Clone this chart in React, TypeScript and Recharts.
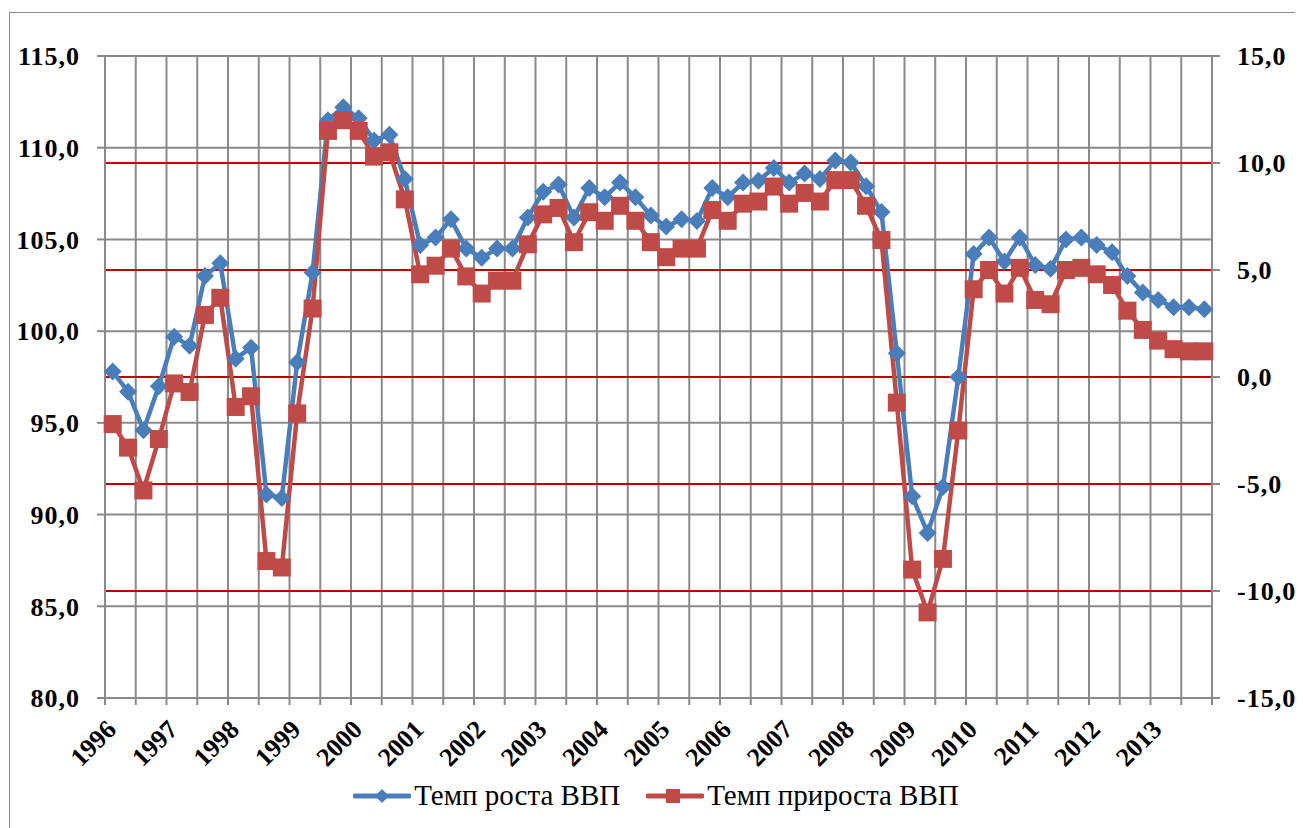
import { LineChart, Line, XAxis, YAxis, CartesianGrid, Legend, ReferenceLine } from 'recharts';

const years = [
  '1996', '1997', '1998', '1999', '2000', '2001', '2002', '2003', '2004',
  '2005', '2006', '2007', '2008', '2009', '2010', '2011', '2012', '2013',
];

// quarterly GDP growth rate, % to same quarter of previous year
const growthRate = [
  97.8, 96.7, 94.6, 97.0, 99.7, 99.2, 103.0, 103.7,
  98.5, 99.1, 91.1, 90.9, 98.3, 103.2, 111.5, 112.2,
  111.6, 110.4, 110.7, 108.3, 104.7, 105.1, 106.1, 104.5,
  104.0, 104.5, 104.5, 106.2, 107.6, 108.0, 106.2, 107.8,
  107.3, 108.1, 107.3, 106.3, 105.7, 106.1, 106.0, 107.8,
  107.3, 108.1, 108.2, 108.9, 108.1, 108.6, 108.3, 109.3,
  109.2, 107.9, 106.5, 98.8, 91.0, 89.0, 91.5, 97.5,
  104.2, 105.1, 103.8, 105.1, 103.6, 103.4, 105.0, 105.1,
  104.7, 104.3, 103.0, 102.1, 101.7, 101.3, 101.3, 101.2,
];

// quarterly GDP growth increment, %
const growthIncrement = [
  -2.2, -3.3, -5.3, -2.9, -0.3, -0.7, 2.9, 3.7,
  -1.4, -0.9, -8.6, -8.9, -1.7, 3.2, 11.5, 12.0,
  11.5, 10.3, 10.5, 8.3, 4.8, 5.2, 6.0, 4.7,
  3.9, 4.5, 4.5, 6.2, 7.6, 7.9, 6.3, 7.7,
  7.3, 8.0, 7.3, 6.3, 5.6, 6.0, 6.0, 7.8,
  7.3, 8.1, 8.2, 8.9, 8.1, 8.6, 8.2, 9.2,
  9.2, 8.0, 6.4, -1.2, -9.0, -11.0, -8.5, -2.5,
  4.1, 5.0, 3.9, 5.1, 3.6, 3.4, 5.0, 5.1,
  4.8, 4.3, 3.1, 2.2, 1.7, 1.3, 1.2, 1.2,
];

const leftTicks = [80, 85, 90, 95, 100, 105, 110, 115];
const rightTicks = [-15, -10, -5, 0, 5, 10, 15];
// red guide lines at the inner ticks of the right axis
const redLines = [-10, -5, 0, 5, 10];

const QUARTERS = growthRate.length;
const data = growthRate.map((v, i) => ({ x: i + 0.5, rate: v, inc: growthIncrement[i] }));
// vertical grid every half year, year labels at the first quarter
const gridTicks = Array.from({ length: QUARTERS / 2 + 1 }, (_, k) => k * 2);
const yearTicks = years.map((_, k) => k * 4 + 0.5);

const FONT = "'Liberation Serif', 'Times New Roman', 'DejaVu Serif', serif";
const BLUE = '#4A7EBB';
const RED = '#BE4B48';
const GRAY = '#8a8a8a';

const fmt = (v: number) => v.toFixed(1).replace('.', ',');

const axisTick = { fill: '#000', fontSize: 26, fontWeight: 700, fontFamily: FONT, letterSpacing: 1 };

function YearTick(props: any) {
  const { x, y, payload } = props;
  const label = years[Math.round((payload.value - 0.5) / 4)];
  const ax = x + 5;
  const ay = y + 26;
  return (
    <text
      x={ax}
      y={ay}
      transform={`rotate(-45, ${ax}, ${ay})`}
      textAnchor="end"
      fill="#000"
      style={{ fontFamily: FONT, fontSize: 26, fontWeight: 700 }}
    >
      {label}
    </text>
  );
}

function Diamond(props: any) {
  const { cx, cy, index } = props;
  const r = 9;
  return (
    <path
      key={`d${index}`}
      d={`M${cx},${cy - r}L${cx + r},${cy}L${cx},${cy + r}L${cx - r},${cy}Z`}
      fill={BLUE}
    />
  );
}

function Square(props: any) {
  const { cx, cy, index } = props;
  const s = 9;
  return <rect key={`s${index}`} x={cx - s} y={cy - s} width={s * 2} height={s * 2} fill={RED} />;
}

function LegendContent() {
  const item = (color: string, label: string, square: boolean) => (
    <div style={{ display: 'flex', alignItems: 'center', marginRight: 26 }}>
      <svg width={58} height={20}>
        <line x1={2} y1={10} x2={56} y2={10} stroke={color} strokeWidth={5} strokeLinecap="round" />
        {square ? (
          <rect x={20} y={3} width={14} height={14} fill={color} />
        ) : (
          <path d="M29,3L36,10L29,17L22,10Z" fill={color} />
        )}
      </svg>
      <span style={{ fontFamily: FONT, fontSize: 29, color: '#000', marginLeft: 3 }}>{label}</span>
    </div>
  );
  return (
    <div style={{ display: 'flex', justifyContent: 'center', paddingLeft: 26 }}>
      {item(BLUE, 'Темп роста ВВП', false)}
      {item(RED, 'Темп прироста ВВП', true)}
    </div>
  );
}

export default function App() {
  return (
    <div style={{ paddingTop: 4, paddingLeft: 1, fontFamily: FONT }}>
      <div
        style={{
          width: 1292,
          height: 830,
          border: '1px solid #8c8c8c',
          background: '#fff',
          position: 'relative',
        }}
      >
        <LineChart
          width={1292}
          height={815}
          data={data}
          margin={{ top: 43, right: 0, left: 0, bottom: 0 }}
          style={{ fontFamily: FONT }}
        >
          <CartesianGrid xAxisId="grid" yAxisId="left" stroke={GRAY} strokeWidth={2} />
          <XAxis
            xAxisId="grid"
            type="number"
            dataKey="x"
            domain={[0, QUARTERS]}
            ticks={gridTicks}
            tickFormatter={() => ''}
            tickSize={7}
            height={7}
            stroke={GRAY}
            strokeWidth={2}
          />
          <XAxis
            xAxisId="year"
            type="number"
            dataKey="x"
            domain={[0, QUARTERS]}
            ticks={yearTicks}
            axisLine={false}
            tickLine={false}
            tickSize={0}
            tickMargin={0}
            interval={0}
            tick={<YearTick />}
            height={90}
          />
          <YAxis
            yAxisId="left"
            domain={[80, 115]}
            ticks={leftTicks}
            tickFormatter={fmt}
            width={95}
            tickSize={8}
            tickMargin={17}
            stroke={GRAY}
            strokeWidth={2}
            tick={axisTick}
            interval={0}
          />
          <YAxis
            yAxisId="right"
            orientation="right"
            domain={[-15, 15]}
            ticks={rightTicks}
            tickFormatter={fmt}
            width={90}
            tickSize={8}
            tickMargin={17}
            stroke={GRAY}
            strokeWidth={2}
            tick={axisTick}
            interval={0}
          />
          {redLines.map((v) => (
            <ReferenceLine
              key={v}
              xAxisId="year"
              yAxisId="right"
              y={v}
              stroke="#C00000"
              strokeWidth={2}
            />
          ))}
          <Legend content={<LegendContent />} wrapperStyle={{ top: 766, left: 0, width: 1292 }} />
          <Line
            xAxisId="year"
            yAxisId="left"
            dataKey="rate"
            name="Темп роста ВВП"
            stroke={BLUE}
            strokeWidth={4.5}
            dot={Diamond}
            activeDot={false}
            isAnimationActive={false}
          />
          <Line
            xAxisId="year"
            yAxisId="right"
            dataKey="inc"
            name="Темп прироста ВВП"
            stroke={RED}
            strokeWidth={4.5}
            dot={Square}
            activeDot={false}
            isAnimationActive={false}
          />
        </LineChart>
      </div>
    </div>
  );
}
